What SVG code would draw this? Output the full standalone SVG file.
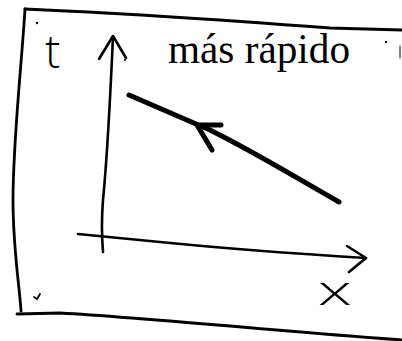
<svg xmlns="http://www.w3.org/2000/svg" width="402" height="341" viewBox="0 0 402 341">
<style>
.ln{fill:none;stroke:#000;stroke-linecap:round;stroke-linejoin:round}
.ax{stroke-width:2.6}
.fr{stroke-width:2.8}
.th{stroke-width:5}
.lbl{font-family:"Liberation Serif",serif;fill:#000}
.hand{font-family:"Open Sans","DejaVu Sans",sans-serif;font-weight:300;fill:#000}
</style>
<rect width="402" height="341" fill="#fff"/>
<g id="frame">
<path class="ln fr" d="M25,9 C120,13 250,22 330,28 L402,30"/>
<path class="ln fr" d="M25,9 C22,60 13,140 13,200 C13,250 20,290 21,311"/>
<path class="ln fr" d="M17,314 L60,313 C150,318 300,333 402,340"/>
<path class="ln" stroke-width="1" d="M400,46 L400,58"/>
<circle cx="37" cy="23" r="1.2"/>
<circle cx="125" cy="60" r="1"/>
<circle cx="386" cy="42" r="1.2"/>
<path class="ln" stroke-width="1.8" d="M34,297 L37,299 L40,294"/>
</g>
<g id="t-axis">
<path class="ln ax" d="M113,37 C110,100 108,150 103,200 C101,225 102,240 103,252"/>
<path class="ln ax" d="M99,59 L113,36 L126,58"/>
</g>
<g id="x-axis">
<path class="ln ax" d="M78,234 L160,242 C230,249 300,254 366,258"/>
<path class="ln ax" d="M347,246 L366,258 L349,272"/>
</g>
<g id="connectors">
<path class="ln th" d="M129,95 L210,130 C260,155 300,180 339,202"/>
<path class="ln th" d="M221,125 L197,125 L212,150"/>
</g>
<g id="labels">
<text class="hand" x="45" y="68" font-size="46">t</text>
<text class="lbl" x="168" y="63" font-size="42" textLength="182" lengthAdjust="spacingAndGlyphs">más rápido</text>
<text class="hand" x="0" y="0" font-size="40" transform="translate(318,305) scale(1.7,1)">x</text>
</g>
</svg>
